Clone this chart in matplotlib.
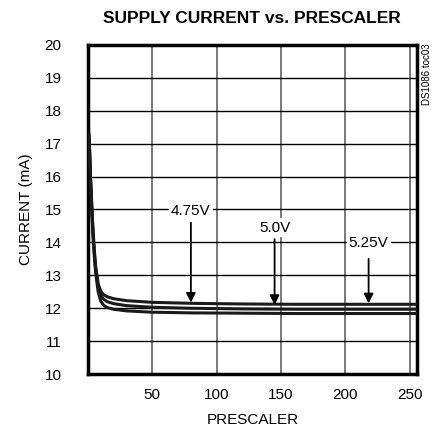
import numpy as np
import matplotlib.pyplot as plt

plt.rcParams['font.family'] = ['Liberation Sans', 'DejaVu Sans']

# prescaler vs supply current (mA), three supply voltages
presc = [1, 2, 3, 4, 5, 6, 8, 10, 12, 15, 20, 30, 50, 80, 120, 160, 200, 256]
i_475 = [17.3, 16.1, 15.2, 14.4, 13.8, 13.3, 12.75, 12.52, 12.42, 12.35, 12.29, 12.23, 12.18, 12.15, 12.13, 12.12, 12.12, 12.12]
i_500 = [17.2, 16.0, 15.1, 14.3, 13.7, 13.2, 12.65, 12.4, 12.28, 12.2, 12.14, 12.08, 12.03, 12.0, 11.98, 11.97, 11.97, 11.97]
i_525 = [17.1, 15.9, 15.0, 14.2, 13.6, 13.1, 12.5, 12.22, 12.1, 12.02, 11.97, 11.92, 11.88, 11.86, 11.85, 11.84, 11.84, 11.84]

xticks = [50, 100, 150, 200, 250]
yticks = list(range(10, 21))

fig = plt.figure(figsize=(4.37, 4.36), dpi=100)
ax = fig.add_axes([0.201, 0.142, 0.753, 0.755])

for y in [i_475, i_500, i_525]:
    ax.plot(presc, y, color='#1a1a1a', lw=2.2, solid_capstyle='round', zorder=3)

ax.set_xlim(0, 255.5)
ax.set_ylim(10, 20)
ax.set_xticks(xticks)
ax.set_yticks(yticks)
ax.tick_params(length=0, labelsize=11, pad=10)
ax.tick_params(axis='y', pad=19)

for x in xticks:
    ax.axvline(x, color='#555555', lw=1.1, zorder=1)
for y in yticks[1:-1]:
    ax.axhline(y, color='black', lw=1.0, zorder=1)
for s in ax.spines.values():
    s.set_linewidth(2.5)

# voltage labels with arrows
labels = [('4.75V', 80, 14.95, 14.6, 12.17),
          ('5.0V', 145, 14.45, 14.1, 12.1),
          ('5.25V', 218, 13.98, 13.5, 12.15)]
for txt, x, ty, y0, y1 in labels:
    ax.text(x, ty, txt, ha='center', va='center', fontsize=11,
            bbox=dict(facecolor='white', edgecolor='none', pad=1.5), zorder=4)
    ax.annotate('', xy=(x, y1), xytext=(x, y0),
                arrowprops=dict(arrowstyle='-|>', color='black', lw=1.3,
                                mutation_scale=14, shrinkA=0, shrinkB=0), zorder=4)

ax.set_xlabel('PRESCALER', fontsize=11, labelpad=8)
ax.set_ylabel('CURRENT (mA)', fontsize=11, labelpad=8)
fig.text(0.577, 0.958, 'SUPPLY CURRENT vs. PRESCALER', ha='center', va='center',
         fontsize=12.5, fontweight='bold')
fig.text(0.978, 0.83, 'DS1086 toc03', rotation=90, ha='center', va='center', fontsize=7)

fig.savefig('out.png', dpi=100)
